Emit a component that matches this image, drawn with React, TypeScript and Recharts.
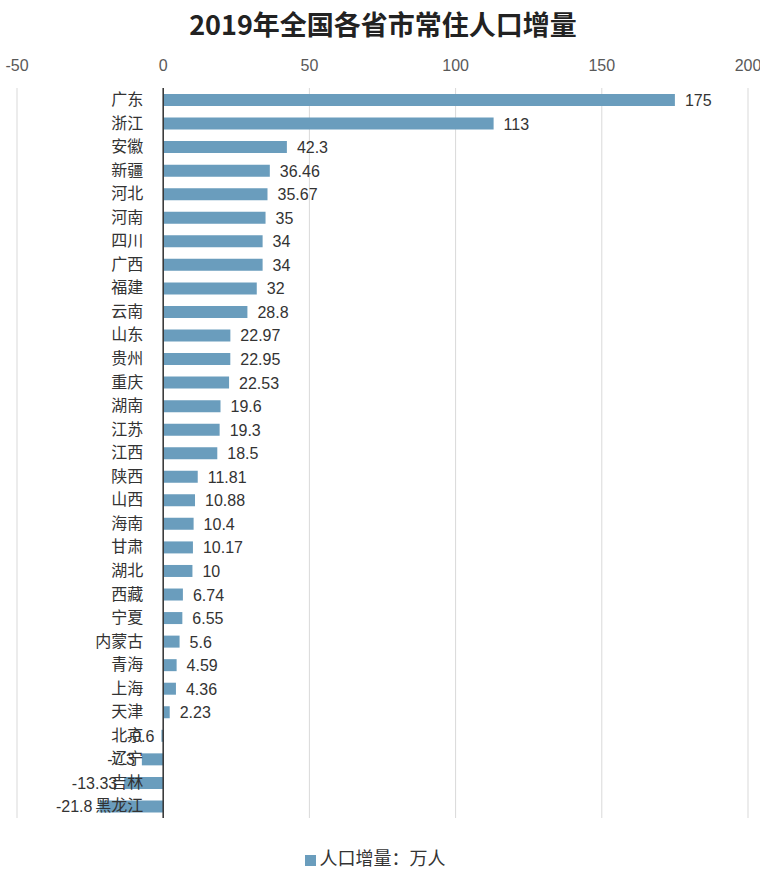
import { BarChart, Bar, XAxis, YAxis, CartesianGrid, ReferenceLine, LabelList, Legend } from 'recharts';

const provinces = [
  '广东', '浙江', '安徽', '新疆', '河北', '河南', '四川', '广西', '福建', '云南',
  '山东', '贵州', '重庆', '湖南', '江苏', '江西', '陕西', '山西', '海南', '甘肃',
  '湖北', '西藏', '宁夏', '内蒙古', '青海', '上海', '天津', '北京', '辽宁', '吉林', '黑龙江',
];
const increase = [
  175, 113, 42.3, 36.46, 35.67, 35, 34, 34, 32, 28.8,
  22.97, 22.95, 22.53, 19.6, 19.3, 18.5, 11.81, 10.88, 10.4, 10.17,
  10, 6.74, 6.55, 5.6, 4.59, 4.36, 2.23, -0.6, -7.3, -13.33, -21.8,
];
const xTicks = [-50, 0, 50, 100, 150, 200];

const data = provinces.map((name, i) => ({ name, value: increase[i] }));

const BAR_COLOR = '#6A9DBD';
const FONT = '"Liberation Sans", "Noto Sans CJK SC", sans-serif';

// zero position of the bar, whatever way the width sign is reported
function zeroOf(x: number, width: number, value: number) {
  if (value >= 0) return width >= 0 ? x : x + width;
  return width < 0 ? x : x + width;
}

function TopTick(props: any) {
  const { x, y, payload } = props;
  return (
    <text x={x} y={y} dy={-2} textAnchor="middle" fontSize={16} fill="#595959" fontFamily={FONT}>
      {payload.value}
    </text>
  );
}

function NameLabel(props: any) {
  const { x, y, width, height, index } = props;
  const v = increase[index];
  const zx = zeroOf(Number(x), Number(width), v);
  return (
    <text x={zx - 20} y={Number(y) + Number(height) / 2} dy={5} textAnchor="end" fontSize={16} fill="#333" fontFamily='"Noto Sans CJK SC", sans-serif'>
      {provinces[index]}
    </text>
  );
}

function ValueLabel(props: any) {
  const { x, y, width, height, index } = props;
  const v = increase[index];
  const zx = zeroOf(Number(x), Number(width), v);
  const w = Math.abs(Number(width));
  const end = v >= 0 ? zx + w : zx - w;
  return (
    <text
      x={v >= 0 ? end + 10 : end - 7}
      y={Number(y) + Number(height) / 2}
      dy={6}
      textAnchor={v >= 0 ? 'start' : 'end'}
      fontSize={16}
      fill="#333"
      fontFamily={FONT}
    >
      {v}
    </text>
  );
}

export default function App() {
  return (
    <div style={{ position: 'relative', width: 760, height: 872, background: '#fff' }}>
      <style>{'html, body { margin: 0; padding: 0; overflow: hidden; }'}</style>
      <div
        style={{
          position: 'absolute',
          top: 4,
          left: 0,
          width: 766,
          textAlign: 'center',
          fontFamily: '"Noto Sans CJK SC", sans-serif',
          fontWeight: 'bold',
          fontSize: 27,
          color: '#222',
        }}
      >
        2019年全国各省市常住人口增量
      </div>
      <BarChart
        width={760}
        height={872}
        data={data}
        layout="vertical"
        margin={{ top: 58, right: 12, bottom: 54, left: 17 }}
        style={{ overflow: 'visible' }}
      >
        <CartesianGrid horizontal={false} stroke="#d9d9d9" />
        <XAxis
          type="number"
          orientation="top"
          domain={[-50, 200]}
          ticks={xTicks}
          axisLine={false}
          tickLine={false}
          height={30}
          tickMargin={9}
          interval={0}
          tick={<TopTick />}
        />
        <YAxis type="category" dataKey="name" hide />
        <ReferenceLine x={0} stroke="#333" strokeWidth={1.5} />
        <Legend
          layout="horizontal"
          verticalAlign="middle"
          align="center"
          iconType="square"
          iconSize={11}
          wrapperStyle={{ top: 844, left: 0, width: 760, fontFamily: '"Noto Sans CJK SC", sans-serif', fontSize: 18 }}
          formatter={(value: string) => <span style={{ color: '#333' }}>{value}</span>}
        />
        <Bar dataKey="value" name="人口增量：万人" fill={BAR_COLOR} barSize={12} isAnimationActive={false}>
          <LabelList dataKey="value" content={<ValueLabel />} />
          <LabelList dataKey="name" content={<NameLabel />} />
        </Bar>
      </BarChart>
    </div>
  );
}
